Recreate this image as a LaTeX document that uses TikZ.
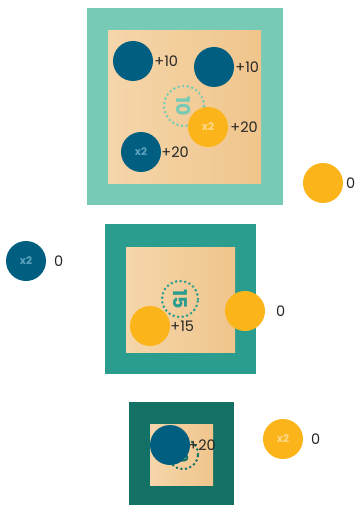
\documentclass[tikz,border=0pt]{standalone}
\usepackage{fontspec}
\setmainfont{Poppins}
\definecolor{cblue}{HTML}{005E80}
\definecolor{cyellow}{HTML}{FBB41A}
\definecolor{tealA}{HTML}{77CAB6}
\definecolor{tealB}{HTML}{2A9D8F}
\definecolor{tealC}{HTML}{137265}
\definecolor{woodL}{HTML}{F5D6AA}
\definecolor{woodD}{HTML}{F0C58C}
\definecolor{xblue}{HTML}{5DA3BD}
\definecolor{xyellow}{HTML}{FDD98A}
\tikzset{
  ball/.style={circle, minimum size=40pt, inner sep=0pt, fill=#1},
  score/.style={anchor=west, inner sep=0pt, font=\fontsize{14.5}{14.5}\selectfont, text=black!85},
  xtwo/.style={font=\bfseries\fontsize{10.5}{10.5}\selectfont, text=#1},
  wood/.style={left color=woodL, right color=woodD},
  ring/.style={circle, draw=#1, line width=2.8pt, line cap=round, dash pattern=on 0pt off 4.6pt, inner sep=0pt},
  ringnum/.style={rotate=-90, font=\bfseries\fontsize{19}{19}\selectfont, text=#1, inner sep=0pt}
}
\begin{document}
\begin{tikzpicture}[x=1pt,y=-1pt]
\useasboundingbox (0,0) rectangle (357,505);
% square 1
\fill[tealA] (87,8) rectangle (283,205);
\fill[wood] (108,31) rectangle (261,183);
\node[ring=tealA, minimum size=40pt] (r1) at (184,106) {};
\node[ringnum=tealA] (n1) at (r1.center) {10};
\node[ball=cblue] (b1) at (133,61) {};
\node[score] (s1) at ([xshift=1pt]b1.east) {+10};
\node[ball=cblue] (b2) at (214,67) {};
\node[score] (s2) at ([xshift=1pt]b2.east) {+10};
\node[ball=cyellow] (y1) at (208,127) {};
\node[xtwo=xyellow] at (y1.center) {x2};
\node[score] (s3) at ([xshift=2pt]y1.east) {+20};
\node[ball=cblue] (b3) at (141,152) {};
\node[xtwo=xblue] at (b3.center) {x2};
\node[score] (s4) at ([xshift=0pt]b3.east) {+20};
\node[ball=cyellow] (y2) at (323,183) {};
\node[score] (s5) at (346,183) {0};
% square 2
\fill[tealB] (105,224) rectangle (256,374);
\fill[wood] (126,247) rectangle (235,352);
\node[ball=cblue] (b4) at (26,261) {};
\node[xtwo=xblue] at (b4.center) {x2};
\node[score] (s6) at (54,261) {0};
\node[ring=tealB, minimum size=36pt] (r2) at (180,299) {};
\node[ringnum=tealB] (n2) at (r2.center) {15};
\node[ball=cyellow] (y3) at (150,326) {};
\node[score] (s7) at ([xshift=0pt]y3.east) {+15};
\node[ball=cyellow] (y4) at (245,311) {};
\node[score] (s8) at (276,311) {0};
% square 3
\fill[tealC] (129,402) rectangle (234,505);
\fill[wood] (150,424) rectangle (213,485);
\node[ring=tealC, minimum size=30pt] (r3) at (183,454) {};
\node[ringnum=tealC, font=\bfseries\fontsize{14}{14}\selectfont] (n3) at (r3.center) {20};
\node[ball=cblue] (b5) at (170,445) {};
\node[score] (s9) at ([xshift=-2pt]b5.east) {+20};
\node[ball=cyellow] (y5) at (283,439) {};
\node[xtwo=xyellow] at (y5.center) {x2};
\node[score] (s10) at (311,439) {0};
\end{tikzpicture}
\end{document}
